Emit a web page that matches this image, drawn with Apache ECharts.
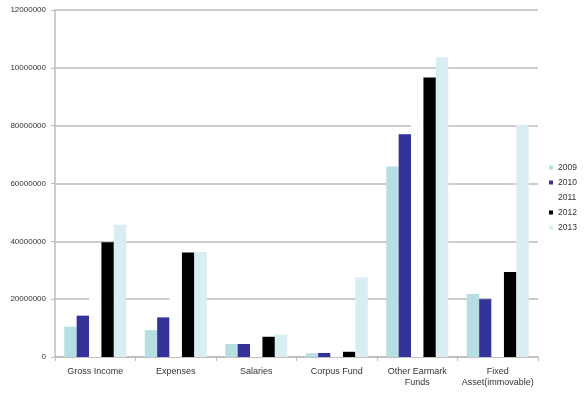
<!DOCTYPE html>
<html>
<head>
<meta charset="utf-8">
<script src="https://cdn.jsdelivr.net/npm/echarts@6/dist/echarts.min.js"></script>
<style>
html,body{margin:0;padding:0;background:#fff;}
#c{width:586px;height:394px;}
</style>
</head>
<body>
<div id="c"></div>
<script>
var categories = ["Gross Income", "Expenses", "Salaries", "Corpus Fund", "Other Earmark\nFunds", "Fixed\nAsset(immovable)"];
var years = ["2009", "2010", "2011", "2012", "2013"];
var s2009 = [10500000, 9300000, 4500000, 1300000, 65900000, 21800000];
var s2010 = [14300000, 13700000, 4500000, 1400000, 77000000, 20000000];
var s2011 = [30000000, 25000000, 6000000, 1500000, 88000000, 25000000];
var s2012 = [39700000, 36100000, 7000000, 1800000, 96700000, 29400000];
var s2013 = [45700000, 36300000, 7800000, 27600000, 103700000, 80300000];
var yTickLabels = ["0", "20000000", "40000000", "60000000", "80000000", "10000000", "12000000"];
var colors = ["#b7dfe2", "#333399", "#ffffff", "#000000", "#d9eef2"];
var seriesData = [s2009, s2010, s2011, s2012, s2013];

var chart = echarts.init(document.getElementById('c'), null, {renderer: 'canvas'});
var series = years.map(function (y, i) {
  return {
    name: y,
    type: 'bar',
    data: seriesData[i],
    barGap: '0%',
    barCategoryGap: '23%',
    itemStyle: {color: colors[i]},
    emphasis: {disabled: true}
  };
});
chart.setOption({
  animation: false,
  backgroundColor: '#ffffff',
  color: colors,
  grid: {left: 55, right: 48, top: 10, bottom: 37, containLabel: false},
  legend: {
    orient: 'vertical',
    left: 544,
    top: 158,
    itemWidth: 4,
    itemHeight: 4,
    itemGap: 6,
    icon: 'rect',
    textStyle: {fontSize: 8.5, color: '#333', fontFamily: 'Liberation Sans, Arial', padding: [0, 0, 0, 0]},
    data: years
  },
  xAxis: {
    type: 'category',
    data: categories,
    axisLine: {lineStyle: {color: '#bdbdbd', width: 1.5}},
    axisTick: {show: true, length: 4, lineStyle: {color: '#bdbdbd'}},
    axisLabel: {fontSize: 9, color: '#333', fontFamily: 'Liberation Sans, Arial', margin: 9, lineHeight: 11, interval: 0}
  },
  yAxis: {
    type: 'value',
    min: 0,
    max: 120000000,
    interval: 20000000,
    axisLine: {show: true, lineStyle: {color: '#bdbdbd', width: 1.5}},
    axisTick: {show: true, length: 4, lineStyle: {color: '#bdbdbd'}},
    splitLine: {lineStyle: {color: '#bdbdbd', width: 1.5}},
    axisLabel: {
      fontSize: 8, color: '#333', fontFamily: 'Liberation Sans, Arial', margin: 9,
      formatter: function (v) { return yTickLabels[Math.round(v / 20000000)]; }
    }
  },
  series: series
});
</script>
</body>
</html>
